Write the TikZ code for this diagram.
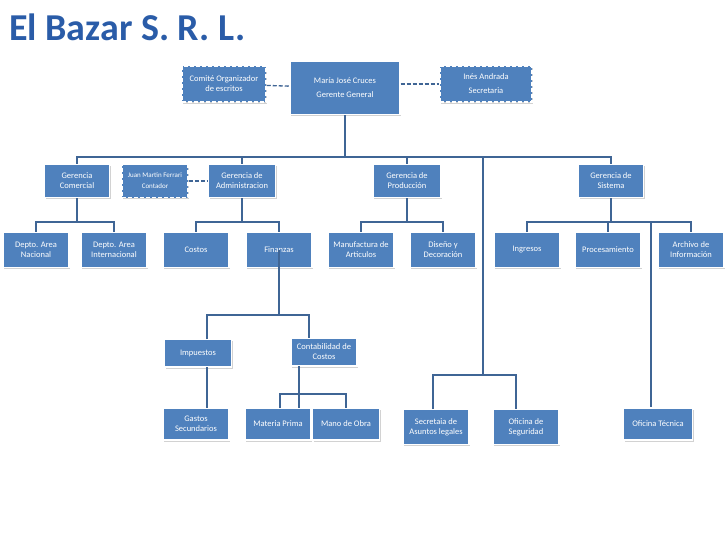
\documentclass[tikz,border=0pt]{standalone}
\usepackage{fontspec}
\setmainfont{Carlito}
\usetikzlibrary{shadows}
\definecolor{boxblue}{HTML}{4F81BD}
\definecolor{lineblue}{HTML}{3F6595}
\definecolor{titleblue}{HTML}{2A5CA8}
\tikzset{
  unit/.style={draw=white, line width=1.2pt, fill=boxblue, text=white,
    font=\fontsize{8.5}{10}\selectfont, align=center, inner sep=1pt,
    drop shadow={shadow xshift=1pt, shadow yshift=-1.5pt, opacity=0.35}},
  staff/.style={unit, dash pattern=on 4pt off 2pt, line width=1.5pt},
  link/.style={draw=lineblue, line width=1.3pt},
  dlink/.style={link, dash pattern=on 4pt off 2pt}
}
\begin{document}
\begin{tikzpicture}[x=1pt,y=-1pt]
  \useasboundingbox[fill=white] (0,0) rectangle (728,546);
  % title
  \node[text=titleblue, font=\fontsize{38}{38}\selectfont\bfseries, anchor=west, inner sep=0pt] (title) at (9,27) {El Bazar S. R. L.};
  % top level
  \node[unit, minimum width=110, minimum height=53] (gerente) at (345,88) {María José Cruces\\[4pt]Gerente General};
  \node[staff, minimum width=84, minimum height=36] (comite) at (224,84) {Comité Organizador\\de escritos};
  \node[staff, minimum width=92, minimum height=36] (ines) at (486,84) {Inés Andrada\\[4pt]Secretaria};
  % gerencias
  \node[unit, minimum width=65, minimum height=33] (comercial) at (77,181) {Gerencia\\Comercial};
  \node[staff, minimum width=66, minimum height=33, font=\fontsize{7}{8}\selectfont] (contador) at (155,181) {Juan Martin Ferrari\\[3pt]Contador};
  \node[unit, minimum width=67, minimum height=33] (admin) at (242,181) {Gerencia de\\Administracion};
  \node[unit, minimum width=68, minimum height=33] (produccion) at (407,181) {Gerencia de\\Producción};
  \node[unit, minimum width=65, minimum height=33] (sistema) at (611,181) {Gerencia de\\Sistema};
  % departamentos
  \foreach \n/\x/\t in {nacional/36/Depto. Area\\Nacional, internacional/114/Depto. Area\\Internacional,
      costos/196/Costos, finanzas/279/Finanzas, manufactura/361/Manufactura de\\Articulos,
      diseno/443/Diseño y\\Decoración, ingresos/527/Ingresos, procesamiento/608/Procesamiento,
      archivo/691/Archivo de\\Información}
    \node[unit, minimum width=66, minimum height=35] (\n) at (\x,250) {\t};
  % finanzas
  \node[unit, minimum width=67, minimum height=28] (impuestos) at (198,353) {Impuestos};
  \node[unit, minimum width=66, minimum height=28] (contab) at (324,352) {Contabilidad de\\Costos};
  \node[unit, minimum width=66, minimum height=32] (gastos) at (196,424) {Gastos\\Secundarios};
  \node[unit, minimum width=66, minimum height=32] (materia) at (278,424) {Materia Prima};
  \node[unit, minimum width=67, minimum height=32] (mano) at (346,424) {Mano de Obra};
  % staff de gerencia
  \node[unit, minimum width=66, minimum height=35] (legales) at (436,427) {Secretaia de\\Asuntos legales};
  \node[unit, minimum width=66, minimum height=35] (seguridad) at (526,427) {Oficina de\\Seguridad};
  \node[unit, minimum width=69, minimum height=32] (tecnica) at (658,424) {Oficina Técnica};
  % connectors
  \coordinate (bus) at (345,157);
  \draw[dlink] (comite) -- (gerente);
  \draw[dlink] (gerente.east |- ines) -- (ines);
  \draw[dlink] (contador) -- (admin);
  \draw[link] (gerente) -- (bus);
  \draw[link] (comercial.north) -- (comercial.north |- bus) -- (sistema.north |- bus) -- (sistema.north);
  \foreach \g in {admin, produccion} \draw[link] (\g.north) -- (\g.north |- bus);
  \foreach \g/\a/\b in {comercial/nacional/internacional, admin/costos/finanzas,
      produccion/manufactura/diseno, sistema/ingresos/archivo} {
    \draw[link] (\g.south) -- (\g.south |- 0,222);
    \draw[link] (\a.north) -- (\a.north |- 0,222) -- (\b.north |- 0,222) -- (\b.north);
  }
  \draw[link] (procesamiento.north) -- (procesamiento.north |- 0,222);
  \draw[link] (279,250) -- (279,315);
  \draw[link] (207,339) -- (207,315) -- (309,315) -- (309,338);
  \draw[link] (207,367) -- (207,408);
  \draw[link] (299,366) -- (299,408);
  \draw[link] (280,408) -- (280,394) -- (346,394) -- (346,408);
  \draw[link] (483,157) -- (483,375);
  \draw[link] (433,409) -- (433,375) -- (516,375) -- (516,409);
  \draw[link] (651,222) -- (tecnica.north -| 651,0);
\end{tikzpicture}
\end{document}
